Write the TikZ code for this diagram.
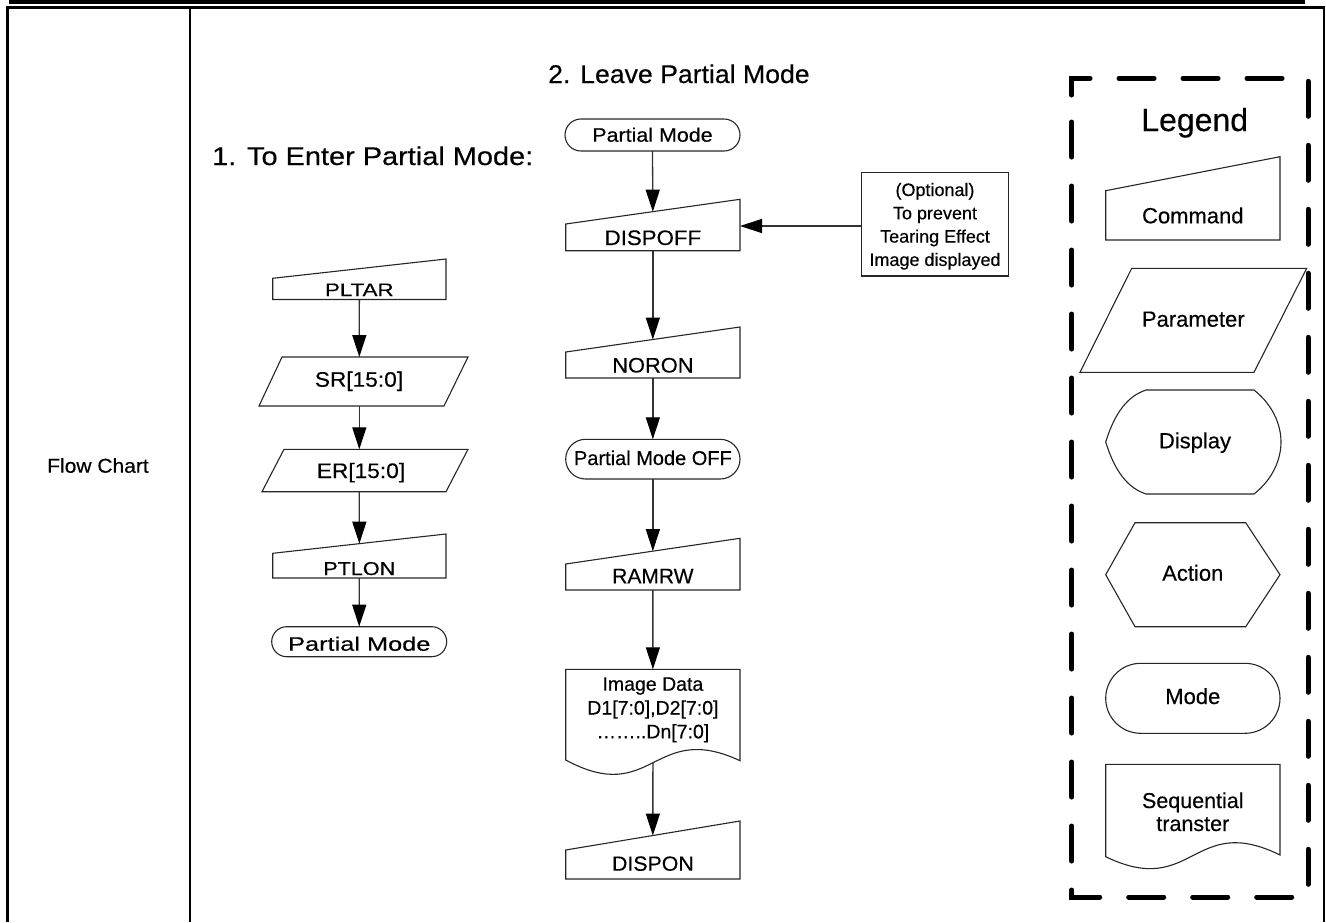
\documentclass[tikz,border=0pt]{standalone}
\usepackage{fontspec}
\usepackage{graphicx}
\setmainfont{Liberation Sans}[FakeBold=0.35]
\usetikzlibrary{arrows.meta}
\newcommand\myfs[1]{\fontsize{#1}{#1}\selectfont}
\newcommand\sx[2]{\scalebox{#1}[1]{#2}}
% command shape: name, xl, xr, y top-left, y top-right, y bottom
\newcommand\cmdbox[6]{%
  \draw[shp] (#2,#4) -- (#3,#5) -- (#3,#6) -- (#2,#6) -- cycle;
  \coordinate (#1-t) at ({(#2+#3)/2},{(#4+#5)/2});
  \coordinate (#1-b) at ({(#2+#3)/2},#6);
  \coordinate (#1-r) at (#3,{(#5+#6)/2});
}
% terminal: name, xl, xr, ytop, ybot, radius
\newcommand\termbox[6]{%
  \draw[shp, rounded corners=#6pt] (#2,#4) rectangle (#3,#5);
  \coordinate (#1-t) at ({(#2+#3)/2},#4);
  \coordinate (#1-b) at ({(#2+#3)/2},#5);
}
\begin{document}
\begin{tikzpicture}[x=1pt,y=-1pt,
  shp/.style={draw=black!85, line width=1.1pt, line join=miter},
  conn/.style={draw=black!80, line width=1.3pt, -{Triangle[length=22pt,width=14pt,color=black]}},
  lbl/.style={inner sep=0pt, anchor=base, text=black},
  legbox/.style={line width=5pt, line cap=round, dash pattern=on 35pt off 29pt}]
\useasboundingbox (0,0) rectangle (1326,922);
% ---- table frame
\fill (9,0) rectangle (1305,3.5);
\draw[line width=2.5pt] (6,7.7) -- (1324.5,7.7);
\draw[line width=3pt] (7.5,6.5) -- (7.5,922);
\draw[line width=2pt] (190,7) -- (190,922);
\draw[line width=2pt] (1323.8,7) -- (1323.8,922);
\node[lbl] (fc) at (98,472.7) {\myfs{20}\sx{1.05}{Flow Chart}};
% ---- titles
\node[lbl, anchor=base west] (t1) at (212,165) {\myfs{25.6}\sx{1.13}{1. To Enter Partial Mode:}};
\node[lbl, anchor=base west] (t2) at (548,83) {\myfs{25.6}\sx{1.04}{2. Leave Partial Mode}};
% ---- left chart
\cmdbox{pltar}{272.7}{446}{278.3}{259}{299.5}
\node[lbl] (pltar) at (359.3,296) {\myfs{18}\sx{1.24}{PLTAR}};
\draw[shp] (282,357) -- (468,357) -- (444,406) -- (259,406) -- cycle;
\coordinate (sr-t) at (359.3,357); \coordinate (sr-b) at (359.3,406);
\node[lbl] (sr) at (359,386.7) {\myfs{21}\sx{1.08}{SR[15:0]}};
\draw[shp] (284,449.3) -- (468,449.3) -- (446,491.7) -- (262,491.7) -- cycle;
\coordinate (er-t) at (359.3,449.3); \coordinate (er-b) at (359.3,491.7);
\node[lbl] (er) at (361,478) {\myfs{21}\sx{1.08}{ER[15:0]}};
\cmdbox{ptlon}{272.7}{446}{553.3}{534}{578}
\node[lbl] (ptlon) at (359.3,575) {\myfs{18.6}\sx{1.16}{PTLON}};
\termbox{pm1}{271.7}{446.7}{626.7}{656.7}{15}
\node[lbl] (pm1) at (359.3,650.7) {\myfs{19.5}\sx{1.3}{Partial Mode}};
\draw[conn] (pltar-b) -- (sr-t);
\draw[conn] (sr-b) -- (er-t);
\draw[conn] (er-b) -- (ptlon-t);
\draw[conn] (ptlon-b) -- (pm1-t);
% ---- middle chart
\termbox{pm2}{565}{740}{119}{151}{16}
\node[lbl] (pm2) at (652.5,141.7) {\myfs{19.5}\sx{1.1}{Partial Mode}};
\cmdbox{dispoff}{565.7}{740}{224}{199.3}{250.7}
\node[lbl] (dispoff) at (652.9,245) {\myfs{21}\sx{1.06}{DISPOFF}};
\cmdbox{noron}{565.7}{740}{352}{327}{378}
\node[lbl] (noron) at (652.9,372.5) {\myfs{21}\sx{1.04}{NORON}};
\termbox{pmoff}{565.7}{740}{439.3}{479}{19.8}
\node[lbl] (pmoff) at (652.9,465) {\myfs{20}{Partial Mode OFF}};
\cmdbox{ramrw}{565.7}{740}{564}{538.3}{590}
\node[lbl] (ramrw) at (652.9,583.3) {\myfs{21}{RAMRW}};
\draw[shp] (565.7,669.3) -- (740,669.3) -- (740,760.7)
  .. controls (653,720) and (653,807) .. (565.7,760) -- cycle;
\coordinate (img-t) at (652.9,669.3); \coordinate (img-b) at (652.9,762);
\node[lbl] (img1) at (652.9,690.7) {\myfs{19.5}{Image Data}};
\node[lbl] (img2) at (652.9,714.5) {\myfs{19.5}{D1[7:0],D2[7:0]}};
\node[lbl] (img3) at (652.9,738.3) {\myfs{19.5}{……..Dn[7:0]}};
\cmdbox{dispon}{565.7}{740}{850}{821}{879}
\node[lbl] (dispon) at (652.9,870.7) {\myfs{20.5}\sx{1.04}{DISPON}};
\draw[conn] (pm2-b) -- (dispoff-t);
\draw[conn] (dispoff-b) -- (noron-t);
\draw[conn] (noron-b) -- (pmoff-t);
\draw[conn] (pmoff-b) -- (ramrw-t);
\draw[conn] (ramrw-b) -- (img-t);
\draw[conn] (img-b) -- (dispon-t);
% ---- optional note
\node[draw=black!85, line width=1.1pt, minimum width=146.6pt, minimum height=103.3pt, inner sep=0pt] (opt) at (935,224.35) {};
\node[lbl] (o1) at (935,196) {\myfs{18}{(Optional)}};
\node[lbl] (o2) at (935,219.3) {\myfs{18}{To prevent}};
\node[lbl] (o3) at (935,242.6) {\myfs{18}{Tearing Effect}};
\node[lbl] (o4) at (935,265.9) {\myfs{18}{Image displayed}};
\coordinate (dispoff-in) at (740,226);
\draw[conn] (opt.west |- dispoff-in) -- (dispoff-in);
% ---- legend
\draw[legbox] (1071.7,95) -- (1071.7,78.3) -- (1308,78.3) -- (1308,897) -- (1071.7,897) -- cycle;
\node[lbl] (leg) at (1194.7,131) {\myfs{32}{Legend}};
\draw[shp] (1105.7,190.7) -- (1280,156.7) -- (1280,240) -- (1105.7,240) -- cycle;
\node[lbl] (lcmd) at (1192.8,223.3) {\myfs{22}{Command}};
\draw[shp] (1131.7,268.3) -- (1306.7,268.3) -- (1254,372.3) -- (1080,372.3) -- cycle;
\node[lbl] (lpar) at (1193.3,326.7) {\myfs{22}{Parameter}};
\draw[shp] (1105.7,442) .. controls (1115,412) and (1128,396) .. (1146,390) -- (1254,390)
  .. controls (1273,405) and (1281,425) .. (1281,442)
  .. controls (1281,459) and (1273,479) .. (1254,494) -- (1146,494)
  .. controls (1128,488) and (1115,472) .. cycle;
\node[lbl] (ldisp) at (1195,448.3) {\myfs{22}{Display}};
\draw[shp] (1105.7,574.7) -- (1135,522.7) -- (1245.7,522.7) -- (1280,574.7) -- (1245.7,626.7) -- (1135,626.7) -- cycle;
\node[lbl] (lact) at (1192.8,580.7) {\myfs{22}{Action}};
\draw[shp, rounded corners=35pt] (1105.7,663.3) rectangle (1280,733.3);
\node[lbl] (lmode) at (1192.8,704) {\myfs{22}{Mode}};
\draw[shp] (1105.7,764.3) -- (1280,764.3) -- (1280,855)
  .. controls (1193,812) and (1193,899) .. (1105.7,856.7) -- cycle;
\node[lbl] (lseq1) at (1192.8,808) {\myfs{21.5}{Sequential}};
\node[lbl] (lseq2) at (1192.8,831) {\myfs{21.5}{transter}};
\end{tikzpicture}
\end{document}
